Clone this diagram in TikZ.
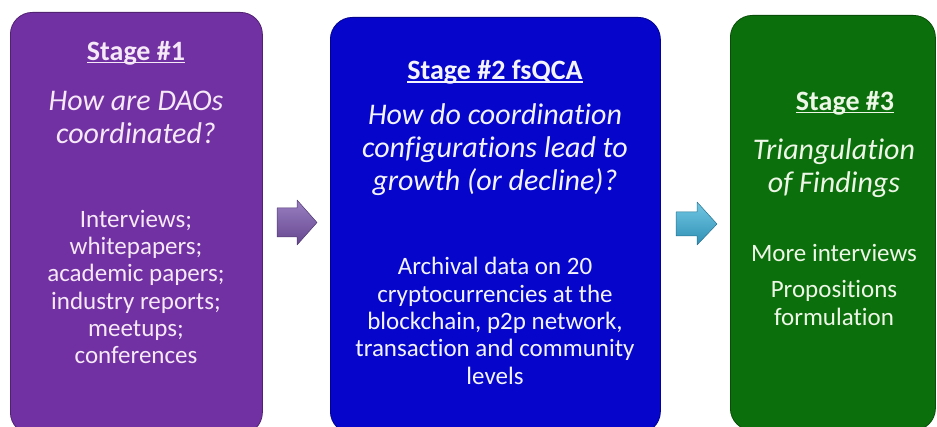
\documentclass[tikz,border=0pt]{standalone}
\usepackage{fontspec}
\setmainfont[Ligatures=NoCommon]{Carlito}

\definecolor{stagepurple}{HTML}{7231A2}
\definecolor{stageblue}{HTML}{0505CC}
\definecolor{stagegreen}{HTML}{0B700B}
\definecolor{txtpurple}{HTML}{F5E8F7}
\definecolor{txtblue}{HTML}{F4F4FF}
\definecolor{txtgreen}{HTML}{EEF6E8}
\definecolor{arrowpurpletop}{HTML}{9A80C2}
\definecolor{arrowpurplebot}{HTML}{65468F}
\definecolor{arrowcyantop}{HTML}{72C8E4}
\definecolor{arrowcyanbot}{HTML}{2F8FB4}

% thick underline for the stage headings
\newcommand\stagerule[1]{\setbox0\hbox{#1}\rlap{\rule[-3.2pt]{\wd0}{1.6pt}}\box0}

\tikzset{
  stagebox/.style={draw=#1!70!black, line width=0.8pt, fill=#1, rounded corners=22pt,
                   anchor=north west, inner sep=0pt},
  heading/.style={font=\fontsize{28}{33}\selectfont\bfseries, align=center, inner sep=0pt},
  question/.style={font=\fontsize{30}{33}\selectfont\itshape, align=center, inner sep=0pt},
  detail/.style={font=\fontsize{25}{27.3}\selectfont, align=center, inner sep=0pt},
}

\begin{document}
\begin{tikzpicture}[x=1pt,y=-1pt]
\useasboundingbox (0,0) rectangle (937,427);

% stage panels
\node[stagebox=stagepurple, minimum width=252pt, minimum height=422pt] (p1) at (10,12) {};
\node[stagebox=stageblue, minimum width=330pt, minimum height=416pt] (p2) at (330,17) {};
\node[stagebox=stagegreen, minimum width=205pt, minimum height=415pt] (p3) at (730,15) {};

% stage 1
\begin{scope}[text=txtpurple]
\node[heading] (h1) at (136,53) {\stagerule{Stage \#1}};
\node[question] (q1) at (136,117) {How are DAOs\\coordinated?};
\node[detail] (d1) at (136,287) {Interviews;\\whitepapers;\\academic papers;\\industry reports;\\meetups;\\conferences};
\end{scope}

% stage 2
\begin{scope}[text=txtblue]
\node[heading] (h2) at (495,72) {\stagerule{Stage \#2 fsQCA}};
\node[question] (q2) at (495,150) {How do coordination\\configurations lead to\\growth (or decline)?};
\node[detail] (d2) at (495,321) {Archival data on 20\\cryptocurrencies at the\\blockchain, p2p network,\\transaction and community\\levels};
\end{scope}

% stage 3
\begin{scope}[text=txtgreen]
\node[heading] (h3) at (845,103) {\stagerule{Stage \#3}};
\node[question] (q3) at (834,168) {Triangulation\\of Findings};
\node[detail] (d3a) at (834,253) {More interviews};
\node[detail] (d3b) at (834,303) {Propositions\\formulation};
\end{scope}

% block arrows between the panels
\coordinate (a1) at (277,208);
\shade[top color=arrowpurpletop, bottom color=arrowpurplebot, draw=arrowpurplebot!80!black, line width=0.5pt, line join=round]
  (a1) -- ++(20,0) -- ++(0,-8) -- ++(20,22.5) -- ++(-20,22.5) -- ++(0,-8) -- ++(-20,0) -- cycle;
\coordinate (a2) at (676,212);
\shade[top color=arrowcyantop, bottom color=arrowcyanbot, draw=arrowcyanbot!80!black, line width=0.5pt, line join=round]
  (a2) -- ++(21,0) -- ++(0,-10) -- ++(20,22) -- ++(-20,21) -- ++(0,-9) -- ++(-21,0) -- cycle;
\end{tikzpicture}
\end{document}
